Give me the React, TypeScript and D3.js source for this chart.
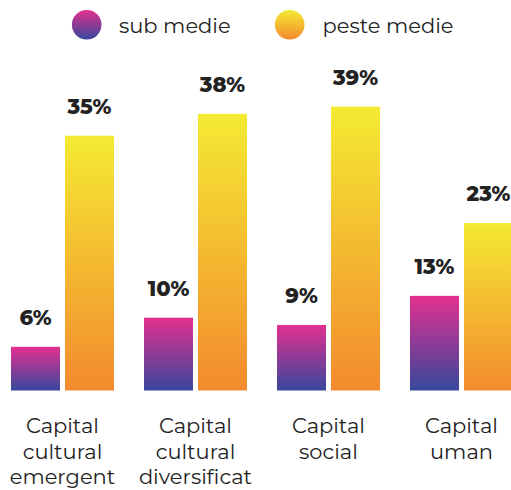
import React from "react";
import * as d3 from "d3";

const categories = [
  ["Capital", "cultural", "emergent"],
  ["Capital", "cultural", "diversificat"],
  ["Capital", "social"],
  ["Capital", "uman"],
];
const seriesKeys = ["sub", "peste"];
const seriesNames = ["sub medie", "peste medie"];
const subMedie = [6, 10, 9, 13];
const pesteMedie = [35, 38, 39, 23];

const W = 511;
const H = 490;
const FONT = "Montserrat, 'DejaVu Sans', sans-serif";

export default function App() {
  const groups = categories.map((_, i) => String(i));
  const x0 = d3.scaleBand<string>().domain(groups).range([11, 513]).paddingInner(0.2256).paddingOuter(0);
  const x1 = d3.scaleBand<string>().domain(seriesKeys).range([0, x0.bandwidth()]).paddingInner(0.0926).paddingOuter(0);
  const y = d3.scaleLinear().domain([0, 40]).range([390.5, 99.3]);
  const values = [subMedie, pesteMedie];

  return (
    <svg width={W} height={H} style={{ position: "absolute", left: 0, top: 0, background: "#fff" }}>
      <defs>
        <linearGradient id="g-sub" x1="0" y1="0" x2="0" y2="1">
          <stop offset="0%" stopColor="#e4308f" />
          <stop offset="100%" stopColor="#37479d" />
        </linearGradient>
        <linearGradient id="g-peste" x1="0" y1="0" x2="0" y2="1">
          <stop offset="0%" stopColor="#f4ea33" />
          <stop offset="100%" stopColor="#f38a2e" />
        </linearGradient>
      </defs>

      {/* legend */}
      <g>
        <circle cx={86.7} cy={24.7} r={14.8} fill="url(#g-sub)" />
        <text x={119} y={33} fontFamily={FONT} fontSize={21} fill="#222">{seriesNames[0]}</text>
        <circle cx={289.7} cy={24.7} r={14.8} fill="url(#g-peste)" />
        <text x={322.5} y={33} fontFamily={FONT} fontSize={21} fill="#222">{seriesNames[1]}</text>
      </g>

      {groups.map((g, gi) => (
        <g key={g} transform={`translate(${x0(g)},0)`}>
          {seriesKeys.map((k, si) => {
            const v = values[si][gi];
            const bx = x1(k)!;
            const bw = x1.bandwidth();
            return (
              <g key={k}>
                <rect x={bx} y={y(v)} width={bw} height={y(0) - y(v)} fill={`url(#g-${k})`} />
                <text
                  x={bx + bw / 2}
                  y={y(v) - 22}
                  textAnchor="middle"
                  fontFamily={FONT}
                  fontWeight={800}
                  fontSize={21}
                  fill="#222"
                >
                  {v}%
                </text>
              </g>
            );
          })}
          <text textAnchor="middle" fontFamily={FONT} fontSize={21} fill="#222">
            {categories[gi].map((line, li) => (
              <tspan key={li} x={x0.bandwidth() / 2} y={433 + li * 25.5}>{line}</tspan>
            ))}
          </text>
        </g>
      ))}
    </svg>
  );
}
